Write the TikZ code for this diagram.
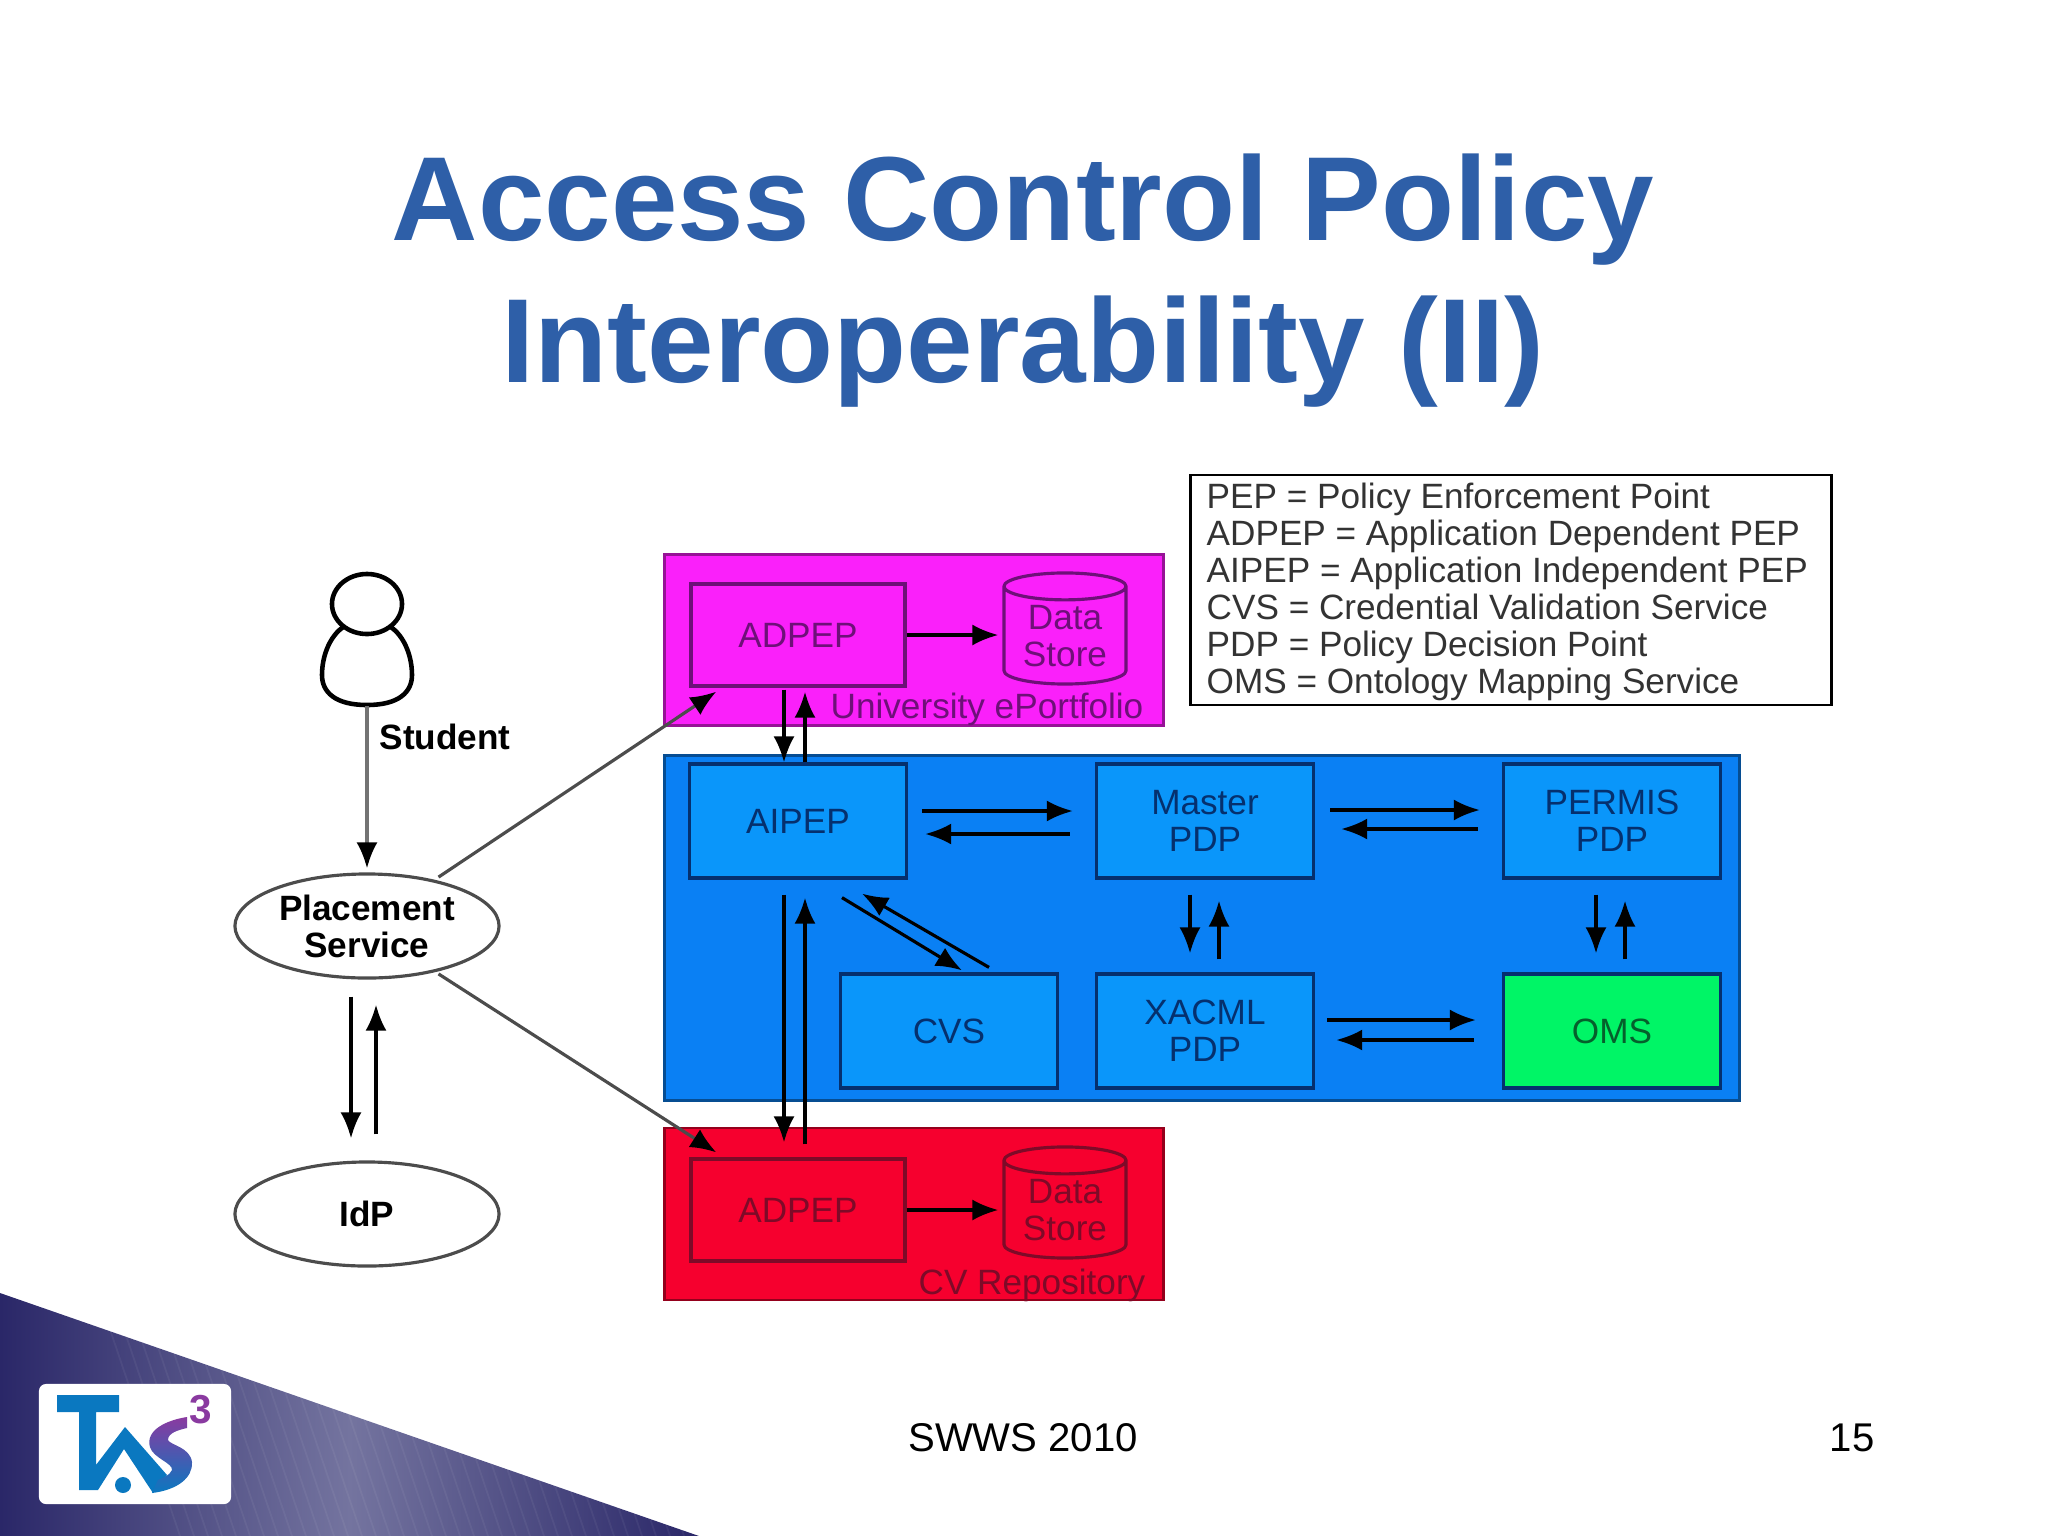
\documentclass[tikz,border=0pt]{standalone}
\usepackage{fontspec}
\setmainfont{Liberation Sans}
\usepackage{tikz}
\usepackage{xcolor}
\usetikzlibrary{positioning, arrows.meta, shapes.geometric}

\definecolor{titleblue}{HTML}{2E5FA8}
\definecolor{zonemag}{HTML}{FA20FA}
\definecolor{zoneblue}{HTML}{0A80F4}
\definecolor{boxblue}{HTML}{0A96FA}
\definecolor{zonered}{HTML}{F6002E}
\definecolor{boxgreen}{HTML}{00F566}
\definecolor{darkmag}{HTML}{6E1078}
\definecolor{darkblue}{HTML}{05306E}
\definecolor{darkred}{HTML}{7E0A28}
\definecolor{darkgreen}{HTML}{05602C}
\definecolor{logoblue}{HTML}{0A78C0}
\definecolor{logopurple}{HTML}{8A3AA0}
\definecolor{wedgedark}{HTML}{2A2768}
\definecolor{wedgelight}{HTML}{74749F}

\tikzset{
    zone/.style={draw=#1!60!black, line width=0.8pt, inner sep=0pt},
    part/.style={rectangle, draw=darkblue, line width=0.9pt, fill=boxblue, text=darkblue, align=center, font=\fontsize{10}{10.5}\selectfont, minimum width=2.17cm, minimum height=1.14cm, inner sep=0pt},
    adpep/.style={part, minimum width=2.14cm, minimum height=1.02cm},
    store/.style={cylinder, shape border rotate=90, aspect=0.32, line width=0.9pt, align=center, font=\fontsize{10}{10.5}\selectfont, minimum width=1.22cm, minimum height=1.11cm, inner sep=0pt},
    oval/.style={ellipse, draw=black!70, line width=0.9pt, fill=white, align=center, minimum width=2.64cm, minimum height=1.04cm, inner sep=0pt, font=\fontsize{10}{10.5}\selectfont\bfseries},
    flow/.style={-{Latex[length=2.6mm, width=2.1mm, color=black]}, line width=0.9pt, draw=black}
}

\begin{document}
\begin{tikzpicture}[x=0.01cm, y=-0.01cm]
    \useasboundingbox (0, 0) rectangle (2048, 1536);

    % footer wedge and logo
    \path[left color=wedgedark, right color=wedgedark, middle color=wedgelight] (0, 1293) -- (699, 1536) -- (0, 1536) -- cycle;
    \begin{scope}
        \clip (0, 1293) -- (699, 1536) -- (0, 1536) -- cycle;
        \foreach \i in {0, 14, ..., 560} {
            \draw[white, opacity=0.05, line width=0.5pt] (100+\i, 1300) -- (180+\i, 1536);
        }
    \end{scope}
    \node[rectangle, rounded corners=2pt, fill=white, minimum width=1.92cm, minimum height=1.2cm, inner sep=0pt] (logo) at (135, 1444) {};
    \fill[logoblue] (57, 1395) -- (119, 1395) -- (119, 1412) -- (96, 1412) -- (96, 1465) -- (125, 1427) -- (167, 1475) -- (153, 1493) -- (124, 1449) -- (98, 1490) -- (79, 1490) -- (79, 1412) -- (57, 1412) -- cycle;
    \fill[logoblue] (123, 1485) circle (8);
    \path[top color=logopurple, bottom color=logoblue] (187, 1417) .. controls (167, 1420) and (145, 1430) .. (150, 1447) .. controls (153, 1458) and (173, 1463) .. (172, 1470) .. controls (170, 1475) and (163, 1478) .. (158, 1480) -- (152, 1493) .. controls (177, 1490) and (193, 1478) .. (192, 1462) .. controls (190, 1447) and (170, 1445) .. (168, 1440) .. controls (168, 1433) and (178, 1430) .. (187, 1428) -- cycle;
    \node[font=\fontsize{11.5}{12}\selectfont\bfseries, text=logopurple, inner sep=0pt] (cube) at (201, 1410) {3};

    % title
    \node[font=\fontsize{34}{40.4}\selectfont\bfseries, text=titleblue, align=center, inner sep=0pt] (title) at (1023, 281) {Access Control Policy\\Interoperability (II)};

    % zones
    \node[zone=zonemag, fill=zonemag, minimum width=4.98cm, minimum height=1.71cm] (univ) at (914, 640) {};
    \node[zone=zoneblue, fill=zoneblue, minimum width=10.74cm, minimum height=3.45cm] (core) at (1202, 928) {};
    \node[zone=zonered, fill=zonered, minimum width=4.98cm, minimum height=1.72cm] (cvrepo) at (914, 1214) {};

    % parts
    \node[adpep, draw=darkmag, fill=zonemag, text=darkmag] (adpep1) at (798, 635) {ADPEP};
    \node[store, draw=darkmag, text=darkmag] (store1) at (1065, 636) {Data\\Store};
    \node[font=\fontsize{10}{11}\selectfont, text=darkmag, inner sep=0pt] (univlabel) at (987, 709) {University ePortfolio};

    \node[part] (aipep) at (798, 821) {AIPEP};
    \node[part] (master) at (1205, 821) {Master\\PDP};
    \node[part] (permis) at (1612, 821) {PERMIS\\PDP};
    \node[part] (cvs) at (949, 1031) {CVS};
    \node[part] (xacml) at (1205, 1031) {XACML\\PDP};
    \node[part, fill=boxgreen, text=darkgreen] (oms) at (1612, 1031) {OMS};

    \node[adpep, draw=darkred, fill=zonered, text=darkred] (adpep2) at (798, 1210) {ADPEP};
    \node[store, draw=darkred, text=darkred] (store2) at (1065, 1210) {Data\\Store};
    \node[font=\fontsize{10}{11}\selectfont, text=darkred, inner sep=0pt] (cvlabel) at (1032, 1285) {CV Repository};

    % legend
    \node[rectangle, draw=black, line width=0.8pt, fill=white, minimum width=6.41cm, minimum height=2.3cm, inner sep=0pt] (legend) at (1511, 590) {};
    \node[anchor=west, align=left, font=\fontsize{10}{10.5}\selectfont, text=black!80, inner sep=0pt] (legendtext) at (1206, 592) {PEP = Policy Enforcement Point\\ADPEP = Application Dependent PEP\\AIPEP = Application Independent PEP\\CVS = Credential Validation Service\\PDP = Policy Decision Point\\OMS = Ontology Mapping Service};

    % student
    \draw[line width=1.3pt, fill=white] (367, 705) .. controls (335, 705) and (322, 692) .. (322, 675) .. controls (322, 650) and (335, 628) .. (350, 624) -- (384, 624) .. controls (399, 628) and (412, 650) .. (412, 675) .. controls (412, 692) and (399, 705) .. (367, 705) -- cycle;
    \node[ellipse, draw=black, line width=1.3pt, fill=white, minimum width=0.7cm, minimum height=0.6cm, inner sep=0pt] (head) at (367, 604) {};
    \coordinate (student) at (367, 706);
    \node[font=\fontsize{10}{11}\selectfont\bfseries, anchor=west, inner sep=0pt] (studentlabel) at (379, 737) {Student};
    \node[oval] (placement) at (367, 926) {Placement\\Service};
    \node[oval] (idp) at (367, 1214) {IdP};

    \draw[flow, draw=black!55] (student) -- ([shift={(0, -4)}]placement.north);
    \draw[flow, draw=black!70] ([shift={(-23, -11)}]placement.north east) -- ([shift={(27, 4)}]adpep1.south west);
    \draw[flow, draw=black!70] ([shift={(-23, 10)}]placement.south east) -- ([shift={(27, -5)}]adpep2.north west);
    \draw[flow] ([shift={(-16, 17)}]placement.south) -- ([shift={(-16, -22)}]idp.north);
    \draw[flow] ([shift={(9, -26)}]idp.north) -- ([shift={(9, 25)}]placement.south);

    \draw[flow] ([shift={(-14, 2)}]adpep1.south) -- ([shift={(-14, 0)}]aipep.north);
    \draw[flow] ([shift={(7, 0)}]aipep.north) -- ([shift={(7, 4)}]adpep1.south);
    \draw[flow] ([shift={(-14, 15)}]aipep.south) -- ([shift={(-14, -15)}]adpep2.north);
    \draw[flow] ([shift={(7, -13)}]adpep2.north) -- ([shift={(7, 18)}]aipep.south);
    \draw[flow] ([shift={(44, 18)}]aipep.south) -- ([shift={(13, -2)}]cvs.north);
    \draw[flow] ([shift={(40, -5)}]cvs.north) -- ([shift={(64, 14)}]aipep.south);

    \draw[flow] ([shift={(14, -10)}]aipep.east) -- ([shift={(-22, -10)}]master.west);
    \draw[flow] ([shift={(-25, 13)}]master.west) -- ([shift={(17, 13)}]aipep.east);
    \draw[flow] ([shift={(15, -11)}]master.east) -- ([shift={(-22, -11)}]permis.west);
    \draw[flow] ([shift={(-24, 8)}]permis.west) -- ([shift={(26, 8)}]master.east);
    \draw[flow] ([shift={(12, -11)}]xacml.east) -- ([shift={(-26, -11)}]oms.west);
    \draw[flow] ([shift={(-28, 9)}]oms.west) -- ([shift={(21, 9)}]xacml.east);

    \draw[flow] ([shift={(-15, 15)}]master.south) -- ([shift={(-15, -19)}]xacml.north);
    \draw[flow] ([shift={(14, -13)}]xacml.north) -- ([shift={(14, 21)}]master.south);
    \draw[flow] ([shift={(-16, 15)}]permis.south) -- ([shift={(-16, -19)}]oms.north);
    \draw[flow] ([shift={(13, -13)}]oms.north) -- ([shift={(13, 21)}]permis.south);

    \draw[flow] (adpep1.east) -- ([shift={(-4, 0)}]store1.west |- adpep1.east);
    \draw[flow] (adpep2.east) -- ([shift={(-4, 0)}]store2.west |- adpep2.east);

    % footer
    \node[font=\fontsize{11.4}{13}\selectfont, inner sep=0pt] (footer) at (1023, 1438) {SWWS 2010};
    \node[font=\fontsize{11.4}{13}\selectfont, inner sep=0pt] (pageno) at (1852, 1438) {15};
\end{tikzpicture}
\end{document}
